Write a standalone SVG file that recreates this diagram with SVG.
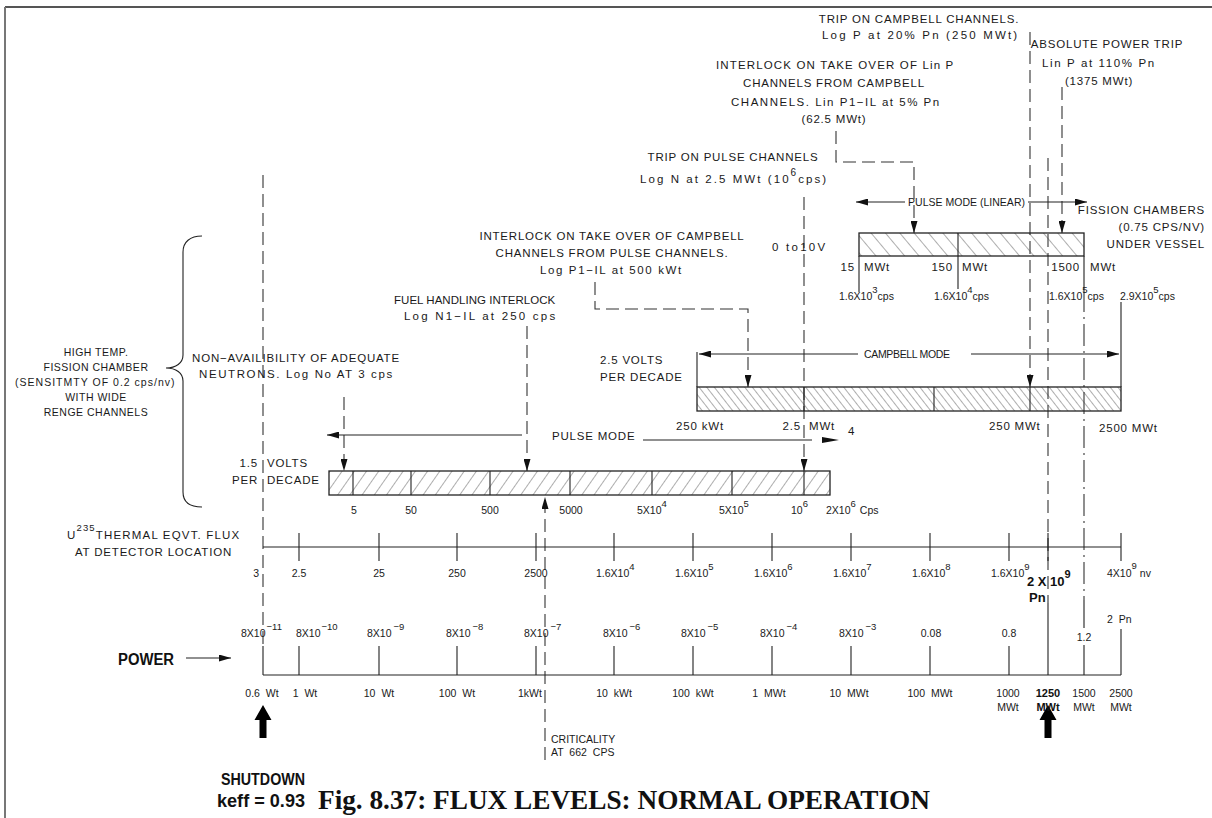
<svg xmlns="http://www.w3.org/2000/svg" width="1212" height="818" viewBox="0 0 1212 818">
<style>
.t{font-family:"Liberation Sans",Arial,sans-serif;font-size:11.5px;letter-spacing:0.8px;fill:#1a1a1a}
.sm{font-size:10.5px;letter-spacing:0.5px}
.md{font-size:10.5px;letter-spacing:0px}
.ax{font-family:"Liberation Sans",Arial,sans-serif;font-size:10.5px;fill:#1a1a1a}
.sup{font-size:9.5px}
.bd{font-family:"Liberation Sans",Arial,sans-serif;font-weight:bold;fill:#111}
.ln{stroke:#222;stroke-width:1.1;fill:none}
.dash{stroke:#333;stroke-width:1.1;fill:none;stroke-dasharray:13 6}
.dd{stroke:#333;stroke-width:1.1;fill:none;stroke-dasharray:22 5 2 5}
.bar{stroke:#222;stroke-width:1.3}
.mid{text-anchor:middle}
.end{text-anchor:end}
</style>
<defs>
<marker id="ah" markerUnits="userSpaceOnUse" markerWidth="12" markerHeight="7" refX="12" refY="3.5" orient="auto"><path d="M0,0 L12,3.5 L0,7 z" fill="#111"/></marker>
<pattern id="hp" width="10" height="10" patternUnits="userSpaceOnUse" patternTransform="rotate(35)"><line x1="0" y1="0" x2="0" y2="10" stroke="#333" stroke-width="0.8"/></pattern>
<pattern id="hc" width="6" height="6" patternUnits="userSpaceOnUse" patternTransform="rotate(-38)"><line x1="0" y1="0" x2="0" y2="6" stroke="#333" stroke-width="0.8"/></pattern>
<pattern id="hl" width="11" height="11" patternUnits="userSpaceOnUse" patternTransform="rotate(-40)"><line x1="0" y1="0" x2="0" y2="11" stroke="#333" stroke-width="0.8"/></pattern>
</defs>
<rect width="1212" height="818" fill="#fff"/>
<g id="frame"><line x1="5" y1="7" x2="1212" y2="7" stroke="#555" stroke-width="2"/><line x1="5" y1="7" x2="5" y2="818" stroke="#777" stroke-width="2"/></g>

<g id="connectors">
<path class="dash" d="M263,175 V646"/>
<path class="dash" d="M545,760 V497" marker-end="url(#ah)"/>
<path class="dash" d="M344,397 V471" marker-end="url(#ah)"/>
<path class="dash" d="M527,326 V471" marker-end="url(#ah)"/>
<path class="dash" d="M804,197 V471" marker-end="url(#ah)"/>
<path class="dash" d="M595,282 V309 H748 V387" marker-end="url(#ah)"/>
<path class="dash" d="M836,131 V162 H914 V233" marker-end="url(#ah)"/>
<path class="dash" d="M1030,32 V387" marker-end="url(#ah)"/>
<path class="dash" d="M1062,87 V233" marker-end="url(#ah)"/>
<path class="dash" d="M1048,158 V603"/>
<path class="dd" d="M1084,290 V600"/>
<path class="ln" d="M905,202 H856" marker-end="url(#ah)"/>
<path class="ln" d="M1028,202 H1087" marker-end="url(#ah)"/>
<path class="ln" d="M858,354 H699" marker-end="url(#ah)"/>
<path class="ln" d="M971,354 H1119" marker-end="url(#ah)"/>
<path class="ln" d="M522,435 H327" marker-end="url(#ah)"/>
<path class="ln" d="M643,440 H812"/>
<path d="M822,437 L839,440 L822,443 z" fill="#111"/>
<path class="ln" d="M186,658 H231" marker-end="url(#ah)"/>
<path class="ln" d="M697,352 V387 M1121,302 V387 M859,256 V292 M958,256 V289 M1084,256 V290"/>
<path d="M202,236 C190,236 183,242 183,252 L183,355 C183,363 176,368 166,368 C176,368 183,373 183,381 L183,492 C183,502 190,507 202,507" class="ln"/>
<path d="M263,705 L271.5,720 L266.5,720 L266.5,738 L259.5,738 L259.5,720 L254.5,720 z" fill="#000"/>
<path d="M1048,705 L1056.5,720 L1051.5,720 L1051.5,738 L1044.5,738 L1044.5,720 L1039.5,720 z" fill="#000"/>
</g>

<g id="linear-bar">
<rect x="859" y="233" width="225" height="23" fill="url(#hl)" class="bar"/>
<line x1="958" y1="233" x2="958" y2="256" class="ln"/>
</g>
<g id="campbell-bar">
<rect x="697" y="387" width="424" height="24" fill="url(#hc)" class="bar"/>
<path class="ln" d="M804,387 V411 M934,387 V411 M1030,387 V411"/>
</g>
<g id="pulse-bar">
<rect x="329" y="471" width="501" height="24" fill="url(#hp)" class="bar"/>
<path class="ln" d="M353,471 V495 M411,471 V495 M490,471 V495 M570,471 V495 M652,471 V495 M732,471 V495 M804,471 V495"/>
</g>

<g id="flux-axis">
<path class="ln" d="M263,547 H1121 M299,533 V561 M379,533 V561 M457,533 V561 M536,533 V561 M614,533 V561 M693,533 V561 M772,533 V561 M851,533 V561 M930,533 V561 M1009,533 V561 M1048,533 V561 M1121,533 V561"/>
<text class="ax end" x="259" y="577">3</text>
<text class="ax mid" x="299" y="577">2.5</text>
<text class="ax mid" x="379" y="577">25</text>
<text class="ax mid" x="457" y="577">250</text>
<text class="ax mid" x="536" y="577">2500</text>
<text class="ax" x="596" y="577">1.6X10<tspan class="sup" dy="-7">4</tspan></text>
<text class="ax" x="675" y="577">1.6X10<tspan class="sup" dy="-7">5</tspan></text>
<text class="ax" x="754" y="577">1.6X10<tspan class="sup" dy="-7">6</tspan></text>
<text class="ax" x="833" y="577">1.6X10<tspan class="sup" dy="-7">7</tspan></text>
<text class="ax" x="912" y="577">1.6X10<tspan class="sup" dy="-7">8</tspan></text>
<text class="ax" x="991" y="577">1.6X10<tspan class="sup" dy="-7">9</tspan></text>
<text class="ax" x="1107" y="577">4X10<tspan class="sup" dy="-8">9</tspan><tspan dy="8" dx="3">nv</tspan></text>
<text class="bd" font-size="13" x="1027" y="586">2 X 10<tspan font-size="11" dy="-8">9</tspan></text>
<text class="bd" font-size="13" x="1029" y="602">Pn</text>
</g>
<g id="flux-title">
<text class="t" x="67" y="539" textLength="173">U<tspan font-size="9.5" dy="-8">235</tspan><tspan dy="8">THERMAL EQVT. FLUX</tspan></text>
<text class="t" x="75" y="556" textLength="157">AT DETECTOR LOCATION</text>
</g>

<g id="power-axis">
<path class="ln" d="M263,675 H1121 M263,646 V675 M299,646 V675 M379,646 V675 M457,646 V675 M536,646 V675 M614,646 V675 M693,646 V675 M772,646 V675 M851,646 V675 M930,646 V675 M1009,646 V675 M1048,603 V675 M1084,600 V628 M1084,645 V675 M1121,629 V675"/>
<text class="ax" x="241" y="637">8X10<tspan class="sup" dx="1" dy="-7">−11</tspan></text>
<text class="ax" x="296" y="637">8X10<tspan class="sup" dx="1" dy="-7">−10</tspan></text>
<text class="ax" x="367" y="637">8X10<tspan class="sup" dx="2" dy="-7">−9</tspan></text>
<text class="ax" x="446" y="637">8X10<tspan class="sup" dx="2" dy="-7">−8</tspan></text>
<text class="ax" x="524" y="637">8X10<tspan class="sup" dx="2" dy="-7">−7</tspan></text>
<text class="ax" x="603" y="637">8X10<tspan class="sup" dx="2" dy="-7">−6</tspan></text>
<text class="ax" x="681" y="637">8X10<tspan class="sup" dx="2" dy="-7">−5</tspan></text>
<text class="ax" x="760" y="637">8X10<tspan class="sup" dx="2" dy="-7">−4</tspan></text>
<text class="ax" x="839" y="637">8X10<tspan class="sup" dx="2" dy="-7">−3</tspan></text>
<text class="ax mid" x="931" y="637">0.08</text>
<text class="ax mid" x="1009" y="637">0.8</text>
<text class="ax mid" x="1084" y="641">1.2</text>
<text class="ax" x="1107" y="623" word-spacing="3">2 Pn</text>
<g word-spacing="3">
<text class="ax mid" x="262" y="697">0.6 Wt</text>
<text class="ax mid" x="305" y="697">1 Wt</text>
<text class="ax mid" x="379" y="697">10 Wt</text>
<text class="ax mid" x="457" y="697">100 Wt</text>
<text class="ax mid" x="530" y="697">1kWt</text>
<text class="ax mid" x="614" y="697">10 kWt</text>
<text class="ax mid" x="693" y="697">100 kWt</text>
<text class="ax mid" x="769" y="697">1 MWt</text>
<text class="ax mid" x="849" y="697">10 MWt</text>
<text class="ax mid" x="930" y="697">100 MWt</text>
</g>
<text class="ax mid" x="1008" y="697">1000</text><text class="ax mid" x="1008" y="711">MWt</text>
<text class="bd mid" font-size="11" x="1048" y="697">1250</text><text class="bd mid" font-size="11" x="1048" y="711">MWt</text>
<text class="ax mid" x="1084" y="697">1500</text><text class="ax mid" x="1084" y="711">MWt</text>
<text class="ax mid" x="1121" y="697">2500</text><text class="ax mid" x="1121" y="711">MWt</text>
</g>
<g id="power-label"><text class="bd" font-size="16" x="118" y="665" textLength="56" lengthAdjust="spacingAndGlyphs">POWER</text></g>

<g id="trip-campbell">
<text class="t mid" x="919" y="23">TRIP ON CAMPBELL CHANNELS.</text>
<text class="t" x="822" y="39" textLength="196">Log P at 20% Pn (250 MWt)</text>
</g>
<g id="abs-power-trip">
<text class="t mid" x="1107" y="48">ABSOLUTE POWER TRIP</text>
<text class="t" x="1042" y="67" textLength="113">Lin P at 110% Pn</text>
<text class="t mid" x="1099" y="85">(1375 MWt)</text>
</g>
<g id="interlock-linp">
<text class="t" x="716" y="69" textLength="238">INTERLOCK ON TAKE OVER OF Lin P</text>
<text class="t mid" x="834" y="87">CHANNELS FROM CAMPBELL</text>
<text class="t" x="731" y="106" textLength="209">CHANNELS. Lin P1−IL at 5% Pn</text>
<text class="t mid" x="834" y="123">(62.5 MWt)</text>
</g>
<g id="trip-pulse">
<text class="t mid" x="733" y="161">TRIP ON PULSE CHANNELS</text>
<text class="t" x="640" y="183" textLength="187">Log N at 2.5 MWt (10<tspan font-size="10" dy="-7">6</tspan><tspan dy="7">cps)</tspan></text>
</g>
<g id="pulse-linear">
<text class="t md" x="908" y="206" textLength="117">PULSE MODE (LINEAR)</text>
<text class="t end" x="1205" y="214">FISSION CHAMBERS</text>
<text class="t end" x="1205" y="231">(0.75 CPS/NV)</text>
<text class="t end" x="1205" y="248">UNDER VESSEL</text>
<text class="t" x="772" y="251" textLength="54">0 to10V</text>
<text class="t end" x="855" y="271">15</text><text class="t" x="864" y="271">MWt</text>
<text class="t end" x="953" y="271">150</text><text class="t" x="962" y="271">MWt</text>
<text class="t end" x="1080" y="271">1500</text><text class="t" x="1090" y="271">MWt</text>
<text class="ax" x="839" y="300">1.6X10<tspan class="sup" dy="-7">3</tspan><tspan dy="7">cps</tspan></text>
<text class="ax" x="934" y="300">1.6X10<tspan class="sup" dy="-7">4</tspan><tspan dy="7">cps</tspan></text>
<text class="ax" x="1049" y="300">1.6X10<tspan class="sup" dy="-7">5</tspan><tspan dy="7">cps</tspan></text>
<text class="ax" x="1120" y="300">2.9X10<tspan class="sup" dy="-7">5</tspan><tspan dy="7">cps</tspan></text>
</g>
<g id="interlock-campbell">
<text class="t mid" x="612" y="240">INTERLOCK ON TAKE OVER OF CAMPBELL</text>
<text class="t mid" x="612" y="257">CHANNELS FROM PULSE CHANNELS.</text>
<text class="t" x="540" y="274" textLength="142">Log P1−IL at 500 kWt</text>
</g>
<g id="campbell-mode">
<text class="t md" x="864" y="358" textLength="86">CAMPBELL MODE</text>
<text class="t" x="600" y="364">2.5 VOLTS</text>
<text class="t" x="600" y="381">PER DECADE</text>
<text class="t mid" x="700" y="430">250 kWt</text>
<text class="t end" x="801" y="430">2.5</text><text class="t" x="809" y="430">MWt</text>
<text class="t" x="989" y="430">250 MWt</text>
<text class="t" x="1099" y="432">2500 MWt</text>
</g>
<g id="fuel-handling">
<text class="t" x="394" y="304" textLength="162">FUEL HANDLING INTERLOCK</text>
<text class="t" x="404" y="320" textLength="152">Log N1−IL at 250 cps</text>
</g>
<g id="non-availability">
<text class="t mid" x="296" y="362">NON−AVAILIBILITY OF ADEQUATE</text>
<text class="t" x="199" y="378" textLength="194">NEUTRONS. Log No AT 3 cps</text>
</g>
<g id="fission-chamber">
<text class="t sm mid" x="96" y="356">HIGH TEMP.</text>
<text class="t sm mid" x="96" y="371">FISSION CHAMBER</text>
<text class="t sm" x="15" y="386" textLength="160">(SENSITMTY OF 0.2 cps/nv)</text>
<text class="t sm mid" x="96" y="401">WITH WIDE</text>
<text class="t sm mid" x="96" y="416">RENGE CHANNELS</text>
</g>
<g id="pulse-mode">
<text class="t end" x="258" y="467">1.5</text><text class="t" x="267" y="467">VOLTS</text>
<text class="t end" x="258" y="484">PER</text><text class="t" x="267" y="484">DECADE</text>
<text class="t" x="552" y="440">PULSE MODE</text>
<text class="t" x="848" y="435">4</text>
<text class="ax mid" x="354" y="514">5</text>
<text class="ax mid" x="411" y="514">50</text>
<text class="ax mid" x="490" y="514">500</text>
<text class="ax mid" x="571" y="514">5000</text>
<text class="ax" x="637" y="514">5X10<tspan class="sup" dy="-7">4</tspan></text>
<text class="ax" x="719" y="514">5X10<tspan class="sup" dy="-7">5</tspan></text>
<text class="ax" x="791" y="514">10<tspan class="sup" dy="-7">6</tspan></text>
<text class="ax" x="826" y="514">2X10<tspan class="sup" dy="-7">6</tspan><tspan dx="4" dy="7">Cps</tspan></text>
</g>
<g id="criticality">
<text class="ax" font-size="10" x="551" y="743">CRITICALITY</text>
<text class="ax" font-size="10" x="551" y="756" word-spacing="3">AT 662 CPS</text>
</g>
<g id="shutdown">
<text class="bd mid" font-size="17" x="263" y="785" textLength="84" lengthAdjust="spacingAndGlyphs">SHUTDOWN</text>
<text class="bd mid" font-size="19" x="261" y="807" textLength="88" lengthAdjust="spacingAndGlyphs">keff = 0.93</text>
</g>
<g id="title">
<text x="318" y="809" font-family="'Liberation Serif','Times New Roman',serif" font-weight="bold" font-size="27" textLength="612" lengthAdjust="spacingAndGlyphs" fill="#111">Fig. 8.37:  FLUX LEVELS: NORMAL OPERATION</text>
</g>
</svg>
